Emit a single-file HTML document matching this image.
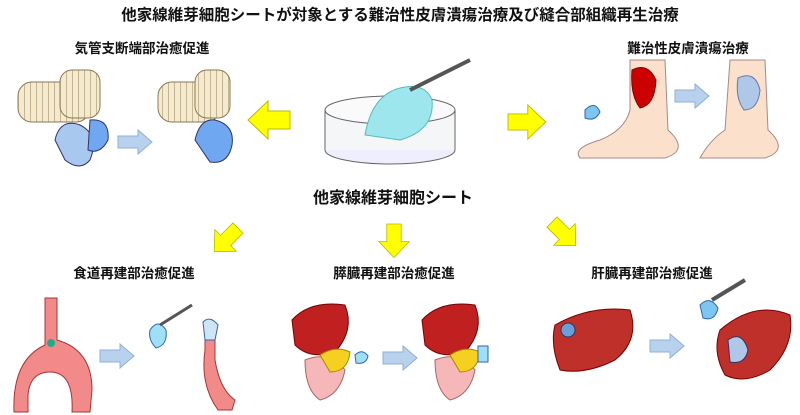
<!DOCTYPE html>
<html><head><meta charset="utf-8"><style>
html,body{margin:0;padding:0;background:#fff;width:800px;height:415px;overflow:hidden}
svg{display:block}
text{font-family:"Liberation Sans","Noto Sans CJK JP",sans-serif;font-weight:bold;fill:#111}
</style></head><body>
<svg width="800" height="415" viewBox="0 0 800 415" xmlns="http://www.w3.org/2000/svg">
<defs>
<g id="ya"><polygon points="0,-9 22,-9 22,-19 42,0 22,19 22,9 0,9" fill="#ffff00" stroke="#b8b800" stroke-width="1"/></g>
<g id="ba"><polygon points="0,-6 20,-6 20,-12 34,0 20,12 20,6 0,6" fill="#b8d2ee" stroke="#8fb0d6" stroke-width="1"/></g>
<pattern id="rib" width="6" height="6" patternUnits="userSpaceOnUse"><rect width="6" height="6" fill="#f3ead0"/><line x1="0" y1="0" x2="0" y2="6" stroke="#b8a67a" stroke-width="1.5"/></pattern>
</defs>
<text x="400" y="20" font-size="15.5" text-anchor="middle">他家線維芽細胞シートが対象とする難治性皮膚潰瘍治療及び縫合部組織再生治療</text>
<text x="142" y="53" font-size="13.5" text-anchor="middle">気管支断端部治癒促進</text>
<text x="688" y="53" font-size="13.5" text-anchor="middle">難治性皮膚潰瘍治療</text>
<text x="393" y="203" font-size="16" text-anchor="middle">他家線維芽細胞シート</text>
<text x="134" y="278" font-size="13.5" text-anchor="middle">食道再建部治癒促進</text>
<text x="394" y="278" font-size="13.5" text-anchor="middle">膵臓再建部治癒促進</text>
<text x="652" y="278" font-size="13.5" text-anchor="middle">肝臓再建部治癒促進</text>

<use href="#ya" transform="translate(290,120) scale(-1,1)"/>
<use href="#ya" transform="translate(508,122) scale(0.9)"/>
<use href="#ya" transform="translate(238,228) rotate(135) scale(0.8)"/>
<use href="#ya" transform="translate(394,224) rotate(90) scale(0.8)"/>
<use href="#ya" transform="translate(552,222) rotate(45) scale(0.8)"/>

<use href="#ba" transform="translate(118,142)"/>
<use href="#ba" transform="translate(675,96)"/>
<use href="#ba" transform="translate(100,356)"/>
<use href="#ba" transform="translate(383,358)"/>
<use href="#ba" transform="translate(650,346)"/>

<!-- dish -->
<ellipse cx="390" cy="150" rx="65" ry="14" fill="#eef" stroke="#666"/>
<rect x="325" y="110" width="130" height="40" fill="#f4f6f8" stroke="none"/>
<line x1="325" y1="110" x2="325" y2="150" stroke="#666"/><line x1="455" y1="110" x2="455" y2="150" stroke="#666"/>
<ellipse cx="390" cy="110" rx="65" ry="14" fill="#fafafa" stroke="#666"/>
<path d="M365,135 Q372,95 400,88 Q425,82 432,100 Q435,130 400,140 Z" fill="#9ee6ee" stroke="#5bb" />
<line x1="410" y1="90" x2="470" y2="60" stroke="#555" stroke-width="4"/>

<!-- bronchus -->
<g stroke="#8a7a55" fill="url(#rib)">
<rect x="18" y="82" width="72" height="40" rx="14"/><rect x="60" y="70" width="40" height="48" rx="12"/>
<rect x="158" y="82" width="62" height="40" rx="14"/><rect x="195" y="70" width="35" height="48" rx="12"/>
</g>
<path d="M55,140 Q60,118 80,125 Q100,135 90,160 Q80,172 65,160 Z" fill="#a8c8f0" stroke="#336"/>
<path d="M90,120 Q110,118 108,140 Q100,155 88,150 Z" fill="#6fa8f0" stroke="#336"/>
<path d="M195,140 Q200,118 215,120 Q235,125 232,145 Q228,165 210,162 Z" fill="#6fa8f0" stroke="#336"/>

<!-- foot -->
<path d="M630,60 L665,60 L668,130 Q690,150 665,158 L580,158 Q572,148 600,140 Q625,130 630,110 Z" fill="#fbe0cc" stroke="#a88"/>
<path d="M632,70 Q648,62 656,80 Q655,105 640,108 Q630,95 632,70 Z" fill="#c00" stroke="#800"/>
<path d="M730,60 L765,60 L768,130 Q790,150 765,158 L700,158 Q710,140 725,130 Z" fill="#fbe0cc" stroke="#a88"/>
<path d="M738,78 Q755,70 760,90 Q758,110 744,110 Q735,98 738,78 Z" fill="#b0c8e8" stroke="#67a"/>
<path d="M585,110 Q595,100 600,112 Q595,122 585,118 Z" fill="#7cc6f0" stroke="#36a"/>

<!-- esophagus -->
<path d="M45,298 L57,298 L57,340 Q92,350 92,390 L90,412 L72,412 Q74,372 50,372 Q30,372 28,395 L28,412 L14,412 Q12,360 45,345 Z" fill="#f28a8a" stroke="#a33"/>
<circle cx="51" cy="343" r="4" fill="#2a8"/>
<path d="M150,330 Q158,318 166,330 Q168,345 156,348 Q148,340 150,330 Z" fill="#9ee0f5" stroke="#36a"/>
<line x1="160" y1="325" x2="192" y2="305" stroke="#555" stroke-width="3"/>
<path d="M205,325 L215,325 L215,360 Q220,390 235,400 L232,410 L218,410 Q200,385 205,350 Z" fill="#f28a8a" stroke="#a33"/>
<path d="M203,322 Q210,315 218,325 L215,340 L205,340 Z" fill="#cfe4f5" stroke="#36a"/>

<!-- pancreas -->
<path d="M292,320 Q310,300 345,305 Q355,330 335,352 Q310,360 295,345 Z" fill="#c02020" stroke="#700"/>
<path d="M305,360 Q330,350 345,370 Q340,395 320,400 Q305,390 305,360 Z" fill="#f5b7b7" stroke="#a66"/>
<path d="M320,355 Q335,345 350,352 Q348,372 330,372 Z" fill="#f5d020" stroke="#a80"/>
<path d="M355,355 Q362,348 368,356 Q366,365 356,363 Z" fill="#9ee0f5" stroke="#36a"/>
<path d="M422,320 Q440,300 475,305 Q485,330 465,352 Q440,360 425,345 Z" fill="#c02020" stroke="#700"/>
<path d="M435,360 Q460,350 475,370 Q470,395 450,400 Q435,390 435,360 Z" fill="#f5b7b7" stroke="#a66"/>
<path d="M450,355 Q465,345 480,352 Q478,372 460,372 Z" fill="#f5d020" stroke="#a80"/>
<rect x="478" y="346" width="10" height="16" fill="#9ee0f5" stroke="#36a"/>

<!-- liver -->
<path d="M555,325 Q590,305 630,310 Q640,340 615,360 Q585,375 560,370 Q550,345 555,325 Z" fill="#c0302a" stroke="#700"/>
<circle cx="568" cy="330" r="7" fill="#6aa0d8" stroke="#336"/>
<path d="M720,330 Q755,300 790,315 Q795,345 770,370 Q745,385 725,375 Q712,352 720,330 Z" fill="#c0302a" stroke="#700"/>
<path d="M728,340 Q742,330 748,350 Q745,365 730,362 Z" fill="#b0c8e8" stroke="#336"/>
<path d="M700,305 Q710,295 718,308 Q715,322 703,318 Z" fill="#7cc6f0" stroke="#36a"/>
<line x1="712" y1="300" x2="745" y2="280" stroke="#555" stroke-width="4"/>
</svg>
</body></html>
